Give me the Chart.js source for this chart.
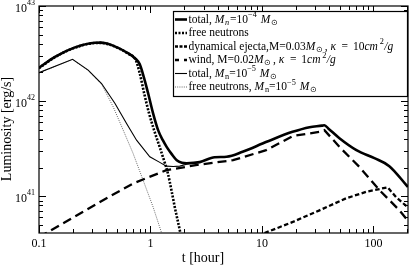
<!DOCTYPE html>
<html>
<head>
<meta charset="utf-8">
<script src="https://cdn.jsdelivr.net/npm/chart.js@4.4.1/dist/chart.umd.min.js"></script>
<style>
  html, body { margin: 0; padding: 0; background: #fff; }
  canvas { display: block; }
</style>
</head>
<body>
<canvas id="lumChart" width="409" height="265"></canvas>
<script>
// t in hours, luminosity in erg/s
const totalT = [0.1, 0.139, 0.21, 0.317, 0.36, 0.45, 0.627, 0.738, 0.80, 0.871, 0.952, 1.055, 1.17, 1.29, 1.40, 1.55, 1.72, 1.91, 2.11, 2.76, 3.76, 4.82, 6.7, 11.0, 18.8, 26.7, 34.5, 36.3, 39.5, 49.5, 70.3, 101.9, 138.7, 197, 204];
const totalL = [2.24e42, 2.92e42, 3.67e42, 4.11e42, 4.12e42, 3.88e42, 3.2e42, 2.77e42, 2.45e42, 1.79e42, 1.21e42, 7.43e41, 4.95e41, 3.88e41, 3.28e41, 2.77e41, 2.39e41, 2.25e41, 2.22e41, 2.28e41, 2.57e41, 2.6e41, 2.93e41, 3.73e41, 4.75e41, 5.32e41, 5.52e41, 5.58e41, 5.13e41, 4.07e41, 3.05e41, 2.51e41, 2.07e41, 1.31e41, 1.25e41];

const freeT = [0.1, 0.139, 0.21, 0.317, 0.36, 0.45, 0.627, 0.738, 0.80, 0.877, 0.971, 1.077, 1.21, 1.32, 1.43, 1.54, 1.65, 1.75, 1.83, 1.91];
const freeL = [2.22e42, 2.9e42, 3.64e42, 4.08e42, 4.09e42, 3.85e42, 3.16e42, 2.7e42, 1.97e42, 1.21e42, 7.43e41, 4.95e41, 3.28e41, 2.39e41, 1.75e41, 1.16e41, 7.7e40, 5.6e40, 4.4e40, 3.3e40];

const dynT = [8, 9.5, 18.9, 32.8, 56.9, 85.9, 134, 159, 204];
const dynL = [3.7e40, 3.9e40, 5.36e40, 7.1e40, 9.5e40, 1.11e41, 1.24e41, 9.8e40, 7.6e40];

const windT = [0.1, 0.352, 0.698, 1.39, 2.76, 5.5, 10.9, 18.9, 32.8, 36.3, 49.5, 74.8, 113, 171, 204];
const windL = [3.7e40, 8.7e40, 1.36e41, 1.88e41, 2.15e41, 2.39e41, 3.05e41, 4.29e41, 4.75e41, 4.95e41, 3.3e41, 2.03e41, 1.16e41, 7.1e40, 5.5e40];

const total5T = [0.1, 0.2, 0.276, 0.364, 0.479, 0.61, 0.75, 0.986, 1.2, 1.39, 1.6, 1.83, 2.11, 2.76];
const total5L = [1.99e42, 2.75e42, 2.12e42, 1.53e42, 9.5e41, 5.8e41, 3.88e41, 2.6e41, 2.28e41, 2.07e41, 2.05e41, 2.07e41, 2.17e41, 2.28e41];

const free5T = [0.1, 0.2, 0.276, 0.364, 0.463, 0.569, 0.698, 0.859, 1.055, 1.25, 1.34];
const free5L = [1.98e42, 2.74e42, 2.1e42, 1.51e42, 8.7e41, 4.95e41, 2.82e41, 1.47e41, 7.7e40, 4.2e40, 3e40];

const xTicks = [0.1, 1, 10, 100];
const xTickLabels = ['0.1', '1', '10', '100'];
const yTicks = [1e41, 1e42, 1e43];
const yTickExp = ['41', '42', '43'];

const SERIF = '"Liberation Serif", "Times New Roman", serif';

// legend rows, pieces of rich text (gap = extra px after a piece)
const MSUN = [{ s: 'M', it: 1 }, { s: '\u2299', sub: 1, gap: 1.5 }];
const EQ = [{ s: ' ', gap: 2 }, { s: '=' }, { s: ' ', gap: 2 }];
const legendRows = [
  [{ s: 'total, ' }, { s: 'M', it: 1 }, { s: 'n', sub: 1, it: 1 }, { s: '=10' }, { s: '\u22124', sup: 1, gap: 1 }, { s: ' ' }, ...MSUN],
  [{ s: 'free neutrons' }],
  [{ s: 'dynamical ejecta,M=0.03' }, ...MSUN, { s: ', ' }, { s: '\u03ba', it: 1 }, ...EQ, { s: '10' }, { s: 'cm', it: 1, gap: 1 }, { s: '2', sup: 1, gap: 0.5 }, { s: '/g', it: 1 }],
  [{ s: 'wind, M=0.02' }, ...MSUN, { s: ', ' }, { s: '\u03ba', it: 1 }, ...EQ, { s: '1' }, { s: 'cm', it: 1, gap: 1 }, { s: '2', sup: 1, gap: 0.5 }, { s: '/g', it: 1 }],
  [{ s: 'total, ' }, { s: 'M', it: 1 }, { s: 'n', sub: 1 }, { s: '=10' }, { s: '\u22125', sup: 1, gap: 1 }, { s: ' ' }, ...MSUN],
  [{ s: 'free neutrons, ' }, { s: 'M', it: 1 }, { s: 'n', sub: 1 }, { s: '=10' }, { s: '\u22125', sup: 1, gap: 1 }, { s: ' ' }, ...MSUN]
];

const pts = (ts, ls) => ts.map((t, i) => ({ x: t, y: ls[i] }));

function richText(ctx, x, y, parts, size) {
  parts.forEach(p => {
    const s = (p.sub || p.sup) ? size * 0.72 : size;
    ctx.font = (p.it ? 'italic ' : '') + s + 'px ' + SERIF;
    const dy = p.sub ? size * 0.28 : p.sup ? -size * 0.4 : 0;
    ctx.fillText(p.s, x, y + dy);
    x += ctx.measureText(p.s).width + (p.gap || 0) + (p.it ? 0.8 : 0);
  });
  return x;
}

const framePlugin = {
  id: 'frame',
  afterDraw(chart) {
    const ctx = chart.ctx;
    const a = chart.chartArea;
    const xs = chart.scales.x, ys = chart.scales.y;
    ctx.save();
    ctx.strokeStyle = '#000';
    ctx.fillStyle = '#000';
    ctx.lineWidth = 1.2;
    ctx.strokeRect(a.left, a.top, a.right - a.left, a.bottom - a.top);

    // inward ticks on all four sides
    ctx.lineWidth = 1;
    ctx.beginPath();
    for (let e = -1; e <= 2; e++) {
      for (let k = 1; k <= 9; k++) {
        const v = k * Math.pow(10, e);
        if (v < xs.min || v > xs.max) continue;
        const px = Math.round(xs.getPixelForValue(v)) + 0.5;
        const len = k === 1 ? 7 : 4;
        ctx.moveTo(px, a.bottom); ctx.lineTo(px, a.bottom - len);
        ctx.moveTo(px, a.top); ctx.lineTo(px, a.top + len);
      }
    }
    for (let e = 40; e <= 43; e++) {
      for (let k = 1; k <= 9; k++) {
        const v = k * Math.pow(10, e);
        if (v < ys.min || v > ys.max) continue;
        const py = Math.round(ys.getPixelForValue(v)) + 0.5;
        const len = k === 1 ? 7 : 4;
        ctx.moveTo(a.left, py); ctx.lineTo(a.left + len, py);
        ctx.moveTo(a.right, py); ctx.lineTo(a.right - len, py);
      }
    }
    ctx.stroke();

    // tick labels
    ctx.font = '12px ' + SERIF;
    ctx.textAlign = 'center';
    ctx.textBaseline = 'middle';
    xTicks.forEach((v, i) => {
      ctx.fillText(xTickLabels[i], xs.getPixelForValue(v), 243.5);
    });
    ctx.textAlign = 'left';
    yTicks.forEach((v, i) => {
      const py = ys.getPixelForValue(v);
      ctx.font = '12px ' + SERIF;
      ctx.fillText('10', 15, py + 2.5);
      ctx.font = '8px ' + SERIF;
      ctx.fillText(yTickExp[i], 27, py - 3.5);
    });

    // axis titles
    ctx.font = '14px ' + SERIF;
    ctx.textAlign = 'center';
    ctx.fillText('t [hour]', 203, 258.5);
    ctx.save();
    ctx.translate(7, 129);
    ctx.rotate(-Math.PI / 2);
    ctx.fillText('Luminosity [erg/s]', 0, 0);
    ctx.restore();

    // legend box
    const bx = 173.5, by = 11.5, bw = 234, bh = 85;
    ctx.fillStyle = '#fff';
    ctx.fillRect(bx, by, bw, bh);
    ctx.strokeStyle = '#000';
    ctx.lineWidth = 1.2;
    ctx.strokeRect(bx, by, bw, bh);
    ctx.textAlign = 'left';
    ctx.textBaseline = 'middle';
    legendRows.forEach((parts, i) => {
      const ds = chart.data.datasets[i];
      const y = 19.5 + i * 13.5;
      ctx.save();
      ctx.strokeStyle = ds.borderColor;
      ctx.lineWidth = ds.borderWidth;
      ctx.setLineDash(ds.legendDash || ds.borderDash || []);
      ctx.beginPath();
      ctx.moveTo(175, y);
      ctx.lineTo(187, y);
      ctx.stroke();
      ctx.restore();
      ctx.fillStyle = '#000';
      richText(ctx, 188.5, y, parts, 11.5);
    });
    ctx.restore();
  }
};

const ctx = document.getElementById('lumChart').getContext('2d');
new Chart(ctx, {
  type: 'line',
  data: {
    datasets: [
      { label: 'total 1e-4', data: pts(totalT, totalL), borderColor: '#000', borderWidth: 2.6, cubicInterpolationMode: 'monotone' },
      { label: 'free neutrons', data: pts(freeT, freeL), borderColor: '#000', borderWidth: 2.6, borderDash: [2, 1.5], cubicInterpolationMode: 'monotone' },
      { label: 'dynamical ejecta', data: pts(dynT, dynL), borderColor: '#000', borderWidth: 2.3, borderDash: [4.5, 2.5], legendDash: [3, 1.5] },
      { label: 'wind', data: pts(windT, windL), borderColor: '#000', borderWidth: 2.3, borderDash: [9, 5], legendDash: [4, 5] },
      { label: 'total 1e-5', data: pts(total5T, total5L), borderColor: '#000', borderWidth: 1.1 },
      { label: 'free neutrons 1e-5', data: pts(free5T, free5L), borderColor: '#555', borderWidth: 0.9, borderDash: [1, 1.2] }
    ]
  },
  options: {
    responsive: false,
    animation: false,
    layout: { padding: { left: 39, right: 1, top: 6, bottom: 32 } },
    elements: { point: { radius: 0 }, line: { tension: 0, fill: false } },
    plugins: { legend: { display: false }, tooltip: { enabled: false } },
    scales: {
      x: { type: 'logarithmic', min: 0.1, max: 204, display: false },
      y: { type: 'logarithmic', min: 4.1e40, max: 1e43, display: false }
    }
  },
  plugins: [framePlugin]
});
</script>
</body>
</html>
